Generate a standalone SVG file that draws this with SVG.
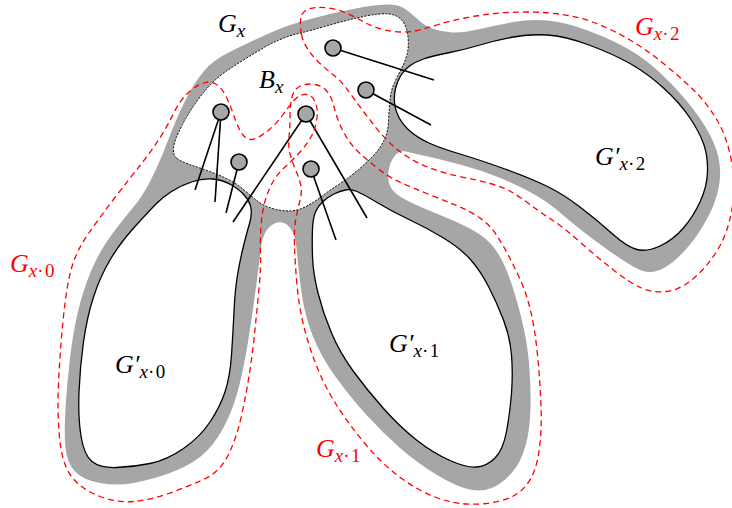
<svg xmlns="http://www.w3.org/2000/svg" width="732" height="508" viewBox="0 0 732 508">
<style>
.band{fill:#a6a6a6;stroke:none}
.hole{fill:#ffffff;stroke:#000;stroke-width:1.3}
.bx{fill:#ffffff;stroke:#000;stroke-width:1;stroke-dasharray:2 1.5}
.red{fill:none;stroke:#ff0000;stroke-width:1.3;stroke-dasharray:6 4}
.edge{stroke:#000;stroke-width:1.6;fill:none}
.v{fill:#a6a6a6;stroke:#000;stroke-width:1.6}
.lbl{font-family:"Liberation Serif","DejaVu Serif",serif;font-style:italic;font-size:26px;fill:#000}
.lbl.r{fill:#ff0000}
.sub{font-size:19px}
.up{font-style:normal;letter-spacing:1.5px}
</style>
<rect width="732" height="508" fill="#ffffff"/>
<g id="gray-region">
<path class="band" d="M204,71 Q213,60 231.5,51 Q250,42 266.5,34.5 Q283,27 298,22.5 Q313,18 330,14 Q347,10 363.5,7 Q380,4 390,4.5 Q400,5 406,9.5 Q412,14 418.5,20 Q425,26 433.5,29 Q442,32 452.5,32.5 Q463,33 480,29 Q497,25 513.5,22 Q530,19 547.5,20.5 Q565,22 589,31 Q613,40 630,50 Q647,60 663.5,76 Q680,92 693.5,109.5 Q707,127 714,143.5 Q721,160 720,177.5 Q719,195 709.5,214 Q700,233 687.5,247.5 Q675,262 664,268 Q653,274 643,271 Q633,268 606.5,249 Q580,230 563.5,215.5 Q547,201 530,192 Q513,183 496.5,176.5 Q480,170 463.5,165.5 Q447,161 430,157 Q413,153 406,151.5 Q399,150 394.5,156 Q390,162 388.5,171 Q387,180 390.5,187 Q394,194 407,200.5 Q420,207 440,215 Q460,223 473.5,230.5 Q487,238 495,249 Q503,260 509,276.5 Q515,293 521,316.5 Q527,340 529,362.5 Q531,385 530.5,407.5 Q530,430 525.5,446 Q521,462 512,472.5 Q503,483 493,487.5 Q483,492 470,489.5 Q457,487 437,475 Q417,463 400,448 Q383,433 366.5,415 Q350,397 335,376 Q320,355 312,334 Q304,313 301,289 Q298,265 297,252.5 Q296,240 293,233 Q290,226 285,223.5 Q280,221 274.5,223.5 Q269,226 265.5,232 Q262,238 260.5,251.5 Q259,265 255.5,291 Q252,317 248,342 Q244,367 238.5,388.5 Q233,410 223,428.5 Q213,447 200,457 Q187,467 168.5,473.5 Q150,480 133.5,483 Q117,486 100,483 Q83,480 75,471.5 Q67,463 65.5,448 Q64,433 65.5,408 Q67,383 70,358 Q73,333 78,311.5 Q83,290 91.5,270 Q100,250 112.5,233.5 Q125,217 133.5,207 Q142,197 149.5,182.5 Q157,168 162,155.5 Q167,143 173.5,126.5 Q180,110 187.5,96 Q195,82 204,71 Z"/>
</g>
<g id="node-Bx">
<path class="bx" d="M176.5,158 Q173,155 173.5,148 Q174,141 182,125.5 Q190,110 201.5,95 Q213,80 228,70 Q243,60 261.5,49 Q280,38 296.5,34 Q313,30 330,25 Q347,20 363.5,16.5 Q380,13 389,14 Q398,15 402.5,21 Q407,27 408,37 Q409,47 407,54.5 Q405,62 401.5,68.5 Q398,75 394.5,82.5 Q391,90 390,100 Q389,110 388.5,121.5 Q388,133 383.5,141.5 Q379,150 371,158 Q363,166 355,172.5 Q347,179 338.5,184.5 Q330,190 321.5,196.5 Q313,203 305,207 Q297,211 288.5,211 Q280,211 271,208 Q262,205 256,200 Q250,195 243,189 Q236,183 226.5,178.5 Q217,174 207,170.5 Q197,167 188.5,164 Q180,161 176.5,158 Z"/>
<text class="lbl" x="259" y="88">B<tspan class="sub" dy="5">x</tspan></text>
</g>
<g id="node-G0">
<path class="hole" d="M135,226.5 Q150,210 156.5,203.5 Q163,197 171.5,191.5 Q180,186 191.5,182 Q203,178 213,179 Q223,180 231.5,185 Q240,190 245,196 Q250,202 251,208.5 Q252,215 249.5,223.5 Q247,232 243.5,246 Q240,260 237.5,275 Q235,290 234,311.5 Q233,333 231.5,355 Q230,377 225,392 Q220,407 210,422 Q200,437 183.5,448.5 Q167,460 150,463.5 Q133,467 116.5,467.5 Q100,468 92,461.5 Q84,455 81,436 Q78,417 79,392 Q80,367 83.5,342 Q87,317 93.5,297 Q100,277 110,260 Q120,243 135,226.5 Z"/>
<text class="lbl" x="115" y="373">G′<tspan class="sub" dy="5">x</tspan><tspan class="sub up">·0</tspan></text>
</g>
<g id="node-G1">
<path class="hole" d="M318,293 Q313,273 312.5,256.5 Q312,240 312.5,229 Q313,218 315.5,212 Q318,206 323,201.5 Q328,197 334,194 Q340,191 345.5,190 Q351,189 357,191.5 Q363,194 378,203 Q393,212 410,220 Q427,228 443.5,238 Q460,248 470,259 Q480,270 488.5,286.5 Q497,303 503.5,320 Q510,337 511.5,355 Q513,373 511.5,393 Q510,413 506.5,431.5 Q503,450 495,458 Q487,466 477,467 Q467,468 450,460.5 Q433,453 416.5,440 Q400,427 383.5,408.5 Q367,390 353.5,371.5 Q340,353 331.5,333 Q323,313 318,293 Z"/>
<text class="lbl" x="389" y="352">G′<tspan class="sub" dy="5">x</tspan><tspan class="sub up">·1</tspan></text>
</g>
<g id="node-G2">
<path class="hole" d="M395.5,88.5 Q397,82 400.5,76 Q404,70 409.5,66 Q415,62 423.5,59 Q432,56 447.5,53 Q463,50 480,45 Q497,40 513.5,37 Q530,34 547.5,35 Q565,36 589,45 Q613,54 630,63.5 Q647,73 663.5,88 Q680,103 690,118 Q700,133 704,145 Q708,157 707.5,172 Q707,187 700,202 Q693,217 683,228.5 Q673,240 660,246 Q647,252 637,249.5 Q627,247 612,233.5 Q597,220 580,207 Q563,194 546.5,186 Q530,178 505,169 Q480,160 460,154 Q440,148 429,143 Q418,138 410.5,131.5 Q403,125 399,117.5 Q395,110 394.5,102.5 Q394,95 395.5,88.5 Z"/>
<text class="lbl" x="595" y="165">G′<tspan class="sub" dy="5">x</tspan><tspan class="sub up">·2</tspan></text>
</g>
<g id="connectors">
<line class="edge" x1="333" y1="48" x2="434" y2="80"/>
<line class="edge" x1="366" y1="90" x2="431" y2="125"/>
<line class="edge" x1="221" y1="112" x2="195" y2="190"/>
<line class="edge" x1="221" y1="112" x2="215" y2="202"/>
<line class="edge" x1="239" y1="162" x2="226" y2="213"/>
<line class="edge" x1="306" y1="114" x2="233" y2="222"/>
<line class="edge" x1="306" y1="114" x2="367" y2="218"/>
<line class="edge" x1="311" y1="169" x2="336" y2="240"/>
</g>
<g id="vertices">
<circle class="v" cx="333" cy="48" r="8"/>
<circle class="v" cx="366" cy="90" r="8"/>
<circle class="v" cx="221" cy="112" r="8"/>
<circle class="v" cx="239" cy="162" r="8"/>
<circle class="v" cx="306" cy="114" r="8"/>
<circle class="v" cx="311" cy="169" r="8"/>
</g>
<g id="node-Gx0">
<path class="red" d="M88.5,233.5 Q100,217 115,197.5 Q130,178 140,165.5 Q150,153 158.5,140 Q167,127 173.5,113.5 Q180,100 188.5,92.5 Q197,85 203.5,83 Q210,81 215.5,84 Q221,87 225,94.5 Q229,102 232.5,112 Q236,122 239,128.5 Q242,135 246,138 Q250,141 256.5,138 Q263,135 270,129 Q277,123 283,114.5 Q289,106 294.5,100 Q300,94 306,94.5 Q312,95 315,101.5 Q318,108 317,117.5 Q316,127 312,135 Q308,143 300.5,151.5 Q293,160 285,167 Q277,174 272,183.5 Q267,193 264.5,203 Q262,213 261,226.5 Q260,240 260.5,253.5 Q261,267 259,288.5 Q257,310 255,330 Q253,350 250,370 Q247,390 242,413.5 Q237,437 228.5,454.5 Q220,472 203.5,479.5 Q187,487 168.5,493.5 Q150,500 133.5,501.5 Q117,503 100,496.5 Q83,490 73,478.5 Q63,467 60,442 Q57,417 58.5,383.5 Q60,350 63.5,316.5 Q67,283 72,266.5 Q77,250 88.5,233.5 Z"/>
<text class="lbl r" x="10" y="272">G<tspan class="sub" dy="5">x</tspan><tspan class="sub up">·0</tspan></text>
</g>
<g id="node-Gx1">
<path class="red" d="M294.5,245.5 Q294,228 296,218 Q298,208 300,200.5 Q302,193 301,186.5 Q300,180 296.5,172 Q293,164 290.5,155.5 Q288,147 289,137 Q290,127 290,116 Q290,105 292,97 Q294,89 300.5,86 Q307,83 315,84.5 Q323,86 327.5,92 Q332,98 334,106.5 Q336,115 339.5,123.5 Q343,132 348,139.5 Q353,147 360,153.5 Q367,160 378.5,169 Q390,178 401.5,183 Q413,188 428,194 Q443,200 456.5,205.5 Q470,211 480,218 Q490,225 496.5,235 Q503,245 509,256.5 Q515,268 521,281.5 Q527,295 531,312.5 Q535,330 537.5,355 Q540,380 541,405 Q542,430 539,451.5 Q536,473 526.5,485 Q517,497 500,501 Q483,505 466.5,504 Q450,503 433.5,496.5 Q417,490 399,476.5 Q381,463 364.5,443 Q348,423 336.5,405 Q325,387 317,367 Q309,347 304,327 Q299,307 297,285 Q295,263 294.5,245.5 Z"/>
<text class="lbl r" x="316" y="457">G<tspan class="sub" dy="5">x</tspan><tspan class="sub up">·1</tspan></text>
</g>
<g id="node-Gx2">
<path class="red" d="M301.5,34.5 Q300,27 300.5,20.5 Q301,14 305,11 Q309,8 316,7.5 Q323,7 331.5,8.5 Q340,10 348.5,14 Q357,18 365,22.5 Q373,27 383,29.5 Q393,32 403,32 Q413,32 421.5,29.5 Q430,27 440,24 Q450,21 465,18 Q480,15 495,13.5 Q510,12 527.5,12 Q545,12 562.5,14.5 Q580,17 596.5,23.5 Q613,30 630,40 Q647,50 663.5,63.5 Q680,77 693.5,90 Q707,103 717,120 Q727,137 731.5,161 Q736,185 732,209 Q728,233 717.5,250 Q707,267 693.5,278.5 Q680,290 666.5,291.5 Q653,293 641.5,288 Q630,283 613.5,270 Q597,257 580,242 Q563,227 551.5,219.5 Q540,212 530,204.5 Q520,197 511.5,192 Q503,187 490,183.5 Q477,180 460,176.5 Q443,173 430,168 Q417,163 407,156.5 Q397,150 388.5,141.5 Q380,133 375,126.5 Q370,120 365,113.5 Q360,107 355,100 Q350,93 345,86.5 Q340,80 333.5,75 Q327,70 320,63.5 Q313,57 308,49.5 Q303,42 301.5,34.5 Z"/>
<text class="lbl r" x="635" y="35">G<tspan class="sub" dy="5">x</tspan><tspan class="sub up">·2</tspan></text>
</g>
<g id="node-Gx">
<text class="lbl" x="218" y="32">G<tspan class="sub" dy="5">x</tspan></text>
</g>
</svg>
